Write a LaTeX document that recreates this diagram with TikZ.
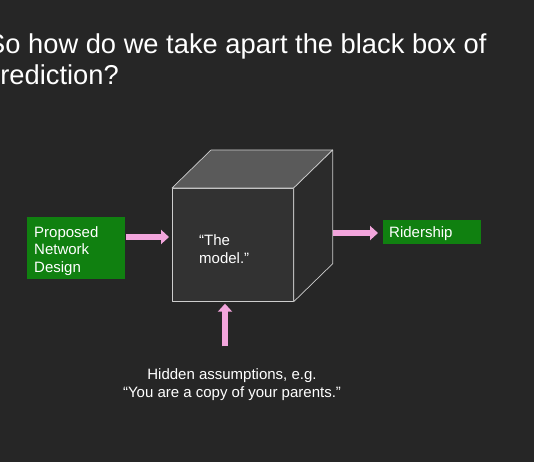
\documentclass[tikz,border=0pt]{standalone}
\usepackage{fontspec}
\setmainfont{Liberation Sans}
\usetikzlibrary{arrows.meta,positioning,calc}
\definecolor{slate}{RGB}{38,38,38}
\definecolor{face}{RGB}{50,50,50}
\definecolor{lid}{RGB}{90,90,90}
\definecolor{side}{RGB}{43,43,43}
\definecolor{edge}{RGB}{205,205,205}
\definecolor{leaf}{RGB}{16,128,16}
\definecolor{blush}{RGB}{242,165,220}
\tikzset{
  every picture/.style={x=1pt, y=-1pt, color=white},
  txt/.style={font=\fontsize{15}{17.5}\selectfont, text=white, inner sep=0pt, align=left},
  headline/.style={font=\fontsize{27.3}{31}\selectfont, text=white, inner sep=0pt, align=left},
  greenbox/.style={fill=leaf, draw=none, inner sep=0pt},
  cubeface/.style={draw=edge, line width=0.7pt, line join=round},
  push/.style={-{Triangle[length=8pt,width=14pt]}, line width=6pt, color=blush},
}

\begin{document}
\begin{tikzpicture}
  \fill[slate] (0,0) rectangle (534,462);
  \useasboundingbox (0,0) rectangle (534,462);
  % title, cut off at the left edge (base = last line)
  \node[headline, anchor=base west] (title) at (-13,85) {So how do we take apart the black box of\\\kern-2pt prediction?};
  % the cube: front face is the node, the rest hangs off its corners
  \node[cubeface, fill=face, minimum width=121pt, minimum height=113pt, inner sep=0pt, anchor=north west] (model) at (172,188) {};
  \coordinate (backleft) at ($(model.north west)+(39,-38)$);
  \coordinate (backright) at ($(model.north east)+(39,-38)$);
  \coordinate (backbottom) at ($(model.south east)+(39,-38)$);
  \draw[cubeface, fill=lid] (model.north west) -- (backleft) -- (backright) -- (model.north east) -- cycle;
  \draw[cubeface, fill=side] (model.north east) -- (backright) -- (backbottom) -- (model.south east) -- cycle;
  \node[txt, anchor=base west] (modeltext) at (199,263) {``The\\model.''};
  % input, output, assumptions
  \node[greenbox, minimum width=98pt, minimum height=62pt, anchor=north west] (design) at (27,217) {};
  \node[txt, anchor=base west] (designtext) at (34,272) {Proposed\\Network\\Design};
  \node[greenbox, minimum width=98pt, minimum height=24pt, anchor=north west] (ridership) at (383,220) {};
  \node[txt, anchor=base west] (ridertext) at (389,237) {Ridership};
  \node[txt, align=center, anchor=base] (hidden) at (232,397) {Hidden assumptions, e.g.\\``You are a copy of your parents.''};
  \coordinate (exit) at (333,233);
  \draw[push, shorten <=1pt, shorten >=3pt] (design.east |- 0,237) -- (model.west |- 0,237);
  \draw[push, shorten >=5pt] (exit) -- (ridership.west |- exit);
  \draw[push, shorten <=22pt, shorten >=2pt] (hidden.north -| 225,0) -- (model.south -| 225,0);
\end{tikzpicture}
\end{document}
